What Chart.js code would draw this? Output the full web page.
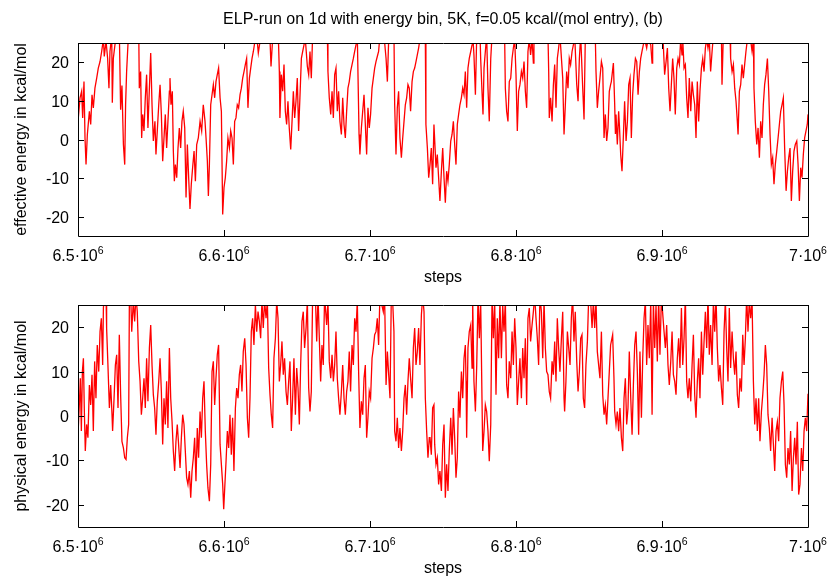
<!DOCTYPE html>
<html>
<head>
<meta charset="utf-8">
<script src="https://cdn.jsdelivr.net/npm/chart.js@4/dist/chart.umd.min.js"></script>
<style>
html, body { margin: 0; padding: 0; background: #fff; }
#wrap { position: relative; width: 829px; height: 577px; }
canvas { position: absolute; left: 0; }
</style>
</head>
<body>
<div id="wrap">
    <canvas id="topChart" width="829" height="290" style="top:0"></canvas>
    <canvas id="bottomChart" width="829" height="287" style="top:290px"></canvas>
</div>
<script>
// steps are stored in thousands (6500 = 6.5e6 steps), energies in kcal/mol
const topStepK = [
    6500.0, 6501.4, 6502.5, 6503.2, 6504.1, 6504.8, 6505.5, 6506.4, 6507.8, 6508.7,
    6509.6, 6510.5, 6511.6, 6512.8, 6513.9, 6515.1, 6516.2, 6517.4, 6518.0, 6519.2,
    6520.3, 6521.2, 6521.9, 6523.1, 6523.5, 6524.2, 6525.3, 6526.5, 6528.3, 6529.2,
    6530.1, 6531.1, 6532.0, 6532.6, 6533.3, 6534.2, 6535.2, 6538.4, 6541.6, 6542.0,
    6542.9, 6543.6, 6544.3, 6545.2, 6546.1, 6547.0, 6547.9, 6548.9, 6549.8, 6550.7,
    6551.6, 6552.7, 6553.4, 6554.3, 6555.3, 6556.2, 6557.1, 6558.0, 6558.9, 6559.8,
    6560.7, 6561.6, 6562.6, 6563.0, 6563.7, 6564.6, 6565.3, 6566.0, 6566.7, 6567.6,
    6568.5, 6569.4, 6570.3, 6571.2, 6572.1, 6573.1, 6574.0, 6574.9, 6575.8, 6576.7,
    6577.6, 6578.5, 6579.5, 6580.4, 6581.3, 6582.4, 6583.6, 6584.7, 6585.8, 6587.0,
    6587.7, 6588.6, 6589.3, 6590.0, 6590.9, 6591.8, 6592.7, 6593.6, 6594.5, 6595.4,
    6596.3, 6597.3, 6598.2, 6599.1, 6600.0, 6600.9, 6601.8, 6602.7, 6603.7, 6604.6,
    6605.5, 6606.4, 6607.3, 6608.2, 6609.1, 6610.0, 6611.0, 6611.9, 6612.8, 6613.7,
    6614.6, 6615.5, 6616.4, 6617.4, 6618.3, 6619.2, 6620.1, 6621.0, 6622.4, 6623.5,
    6624.7, 6626.9, 6631.5, 6632.2, 6633.3, 6637.2, 6637.9, 6638.3, 6639.3, 6640.2,
    6641.1, 6642.0, 6642.9, 6643.8, 6644.7, 6645.7, 6646.6, 6647.5, 6648.4, 6649.3,
    6650.2, 6651.1, 6652.0, 6653.0, 6653.9, 6654.8, 6655.7, 6657.1, 6658.0, 6658.9,
    6659.8, 6660.7, 6665.7, 6670.8, 6671.2, 6672.1, 6673.1, 6674.0, 6674.9, 6675.8,
    6676.7, 6677.6, 6678.5, 6679.4, 6680.4, 6681.3, 6682.2, 6683.1, 6684.0, 6684.9,
    6685.8, 6686.7, 6687.7, 6688.6, 6689.5, 6690.4, 6691.3, 6692.5, 6693.1, 6694.1,
    6695.0, 6695.9, 6696.8, 6697.7, 6698.6, 6699.5, 6700.4, 6701.4, 6702.3, 6703.2,
    6704.1, 6705.0, 6705.9, 6706.8, 6709.1, 6711.0, 6711.9, 6712.8, 6716.4, 6716.9,
    6717.8, 6718.7, 6719.6, 6720.5, 6721.5, 6722.4, 6723.3, 6724.2, 6725.1, 6726.0,
    6726.9, 6727.8, 6728.8, 6729.7, 6730.6, 6731.5, 6732.4, 6733.3, 6734.2, 6736.5,
    6737.9, 6738.3, 6739.3, 6740.2, 6741.1, 6742.0, 6742.9, 6743.8, 6745.2, 6746.1,
    6747.0, 6747.9, 6748.9, 6749.8, 6750.7, 6751.6, 6752.5, 6753.4, 6754.3, 6755.3,
    6756.2, 6757.1, 6758.0, 6758.9, 6759.8, 6760.7, 6761.6, 6762.6, 6763.5, 6764.4,
    6765.3, 6766.2, 6767.1, 6768.0, 6769.0, 6769.9, 6770.4, 6771.2, 6772.2, 6773.1,
    6775.3, 6775.8, 6776.7, 6777.4, 6778.1, 6779.0, 6779.9, 6780.8, 6781.7, 6782.7,
    6783.6, 6787.9, 6792.2, 6792.7, 6793.6, 6794.5, 6795.4, 6796.4, 6797.3, 6798.2,
    6799.1, 6800.0, 6800.9, 6801.8, 6802.7, 6803.7, 6804.6, 6805.5, 6806.4, 6807.3,
    6808.2, 6809.1, 6810.0, 6811.0, 6811.9, 6812.3, 6817.1, 6821.9, 6822.4, 6822.8,
    6823.7, 6824.7, 6825.6, 6826.5, 6827.4, 6828.3, 6829.2, 6830.1, 6832.0, 6832.9,
    6833.8, 6834.7, 6835.6, 6836.5, 6837.4, 6838.4, 6839.3, 6840.2, 6841.6, 6842.5,
    6843.4, 6844.3, 6845.7, 6846.6, 6847.5, 6850.9, 6854.3, 6854.8, 6855.7, 6856.6,
    6857.5, 6858.5, 6859.4, 6860.3, 6861.2, 6862.1, 6863.0, 6863.9, 6864.8, 6865.3,
    6866.7, 6867.6, 6868.1, 6868.5, 6869.4, 6870.3, 6870.8, 6871.7, 6872.6, 6873.5,
    6874.4, 6875.4, 6876.3, 6877.2, 6878.1, 6879.0, 6879.9, 6880.8, 6881.8, 6882.7,
    6883.6, 6884.5, 6885.4, 6886.3, 6887.2, 6888.1, 6889.5, 6890.4, 6892.3, 6893.2,
    6893.6, 6897.0, 6900.5, 6900.9, 6901.8, 6902.8, 6903.7, 6904.6, 6905.5, 6906.4,
    6907.3, 6908.2, 6909.1, 6910.1, 6911.0, 6911.9, 6912.8, 6913.7, 6914.2, 6915.1,
    6916.0, 6916.9, 6917.8, 6918.7, 6919.7, 6920.6, 6921.5, 6922.4, 6923.3, 6924.2,
    6925.1, 6926.0, 6927.0, 6927.9, 6928.8, 6929.7, 6930.6, 6931.5, 6932.4, 6933.3,
    6934.3, 6935.2, 6940.7, 6941.1, 6942.0, 6946.6, 6947.0, 6948.0, 6948.9, 6949.8,
    6950.7, 6951.6, 6952.1, 6953.0, 6953.9, 6954.8, 6955.7, 6956.6, 6957.5, 6958.5,
    6960.3, 6961.7, 6962.6, 6963.0, 6963.9, 6964.9, 6965.8, 6966.7, 6967.6, 6968.5,
    6969.4, 6970.3, 6971.2, 6972.2, 6973.1, 6974.0, 6974.9, 6975.8, 6976.7, 6977.6,
    6978.6, 6979.5, 6980.4, 6981.3, 6982.2, 6983.1, 6984.0, 6985.0, 6985.9, 6986.8,
    6987.7, 6988.6, 6989.5, 6990.4, 6991.3, 6992.3, 6993.2, 6994.1, 6995.0, 6995.9,
    6996.8, 6997.7, 6998.6, 6999.5, 7000.0
];
const topEnergy = [
    4.7, 10.8, 12.5, 5.6, 15, 0.4, -6.5, 1.3, 7.3, 3.9,
    11.6, 8.2, 13.3, 15.9, 18.5, 20.2, 22.8, 26, 21.5, 25.5,
    21, 13.3, 22.8, 27, 9.5, 21, 24.5, 27, 28, 7.7,
    14, -1.3, -6.5, 9, 17.6, 24.5, 28, 30, 28, 13.3,
    17.6, 0.4, 6.5, 2.2, 10.8, 16.8, 3, 13.3, 22.4, 9,
    -0.4, 4.7, -3.9, 2.2, 9, 14.2, 6.5, -5.6, 0.4, 6.5,
    -2.2, 4.7, 12.5, 15.9, 9, 12.5, -3, -10.8, -6.5, -9.9,
    -2.2, 3, -2.2, 4.7, 7.3, 3, -15, -1.3, -9.9, -18,
    -11.6, -7.3, -3, -10.8, -1.3, 0.4, 4.7, 2.2, 9, 4.7,
    0.4, -5.6, -14.6, -6.5, 9, 11.6, 14.2, 10.8, 15, 16.8,
    18.5, 10.8, 7.3, -19.4, -12.5, -9.9, -5.6, 0.4, -2.2, 2.2,
    0.4, -6.5, 4.7, 5.6, 9, 8.2, 11.6, 13.3, 15.9, 17.6,
    19.4, 21, 8.2, 15.9, 18.5, 21, 22.8, 25, 27, 22.4,
    25.5, 27, 26, 18.9, 26, 27, 17.6, 5.6, 16.8, 12.5,
    19.4, 7.3, 3.9, 9.9, 3, -2.6, 4.7, 12.5, 5.6, 9.9,
    15.9, 2.2, 10.8, 21, 22.8, 24.5, 26, 18.9, 16.8, 22.8,
    15.9, 27, 30, 27, 17.6, 10.8, 6.5, 12.5, 5.6, 16.8,
    18.5, 7.3, 12.5, 4.7, 1.3, 10.8, 3.9, 0.4, 7.3, 13.3,
    15, 17.6, 19.4, 21, 22.8, 24.5, 27, 1.3, -3.9, 3,
    7.3, 11.6, 3.9, -3.9, 8.2, 3, 6.5, 13.3, 15.9, 18.5,
    20.2, 21.5, 22.8, 27, 29, 21, 15, 26, 28, 9,
    -3.9, 8.2, 12.5, 0.4, -4.7, 0.4, 4.7, 9, 10.8, 14.2,
    13.3, 7.3, 15, 17.6, 18.5, 20.2, 21.9, 23.7, 26, 28,
    26, 3.9, -2.2, -9.9, -6.5, -2.2, -11.6, 3.9, -7.3, -3.9,
    -9.9, -15.9, -8.2, -2.2, -9.9, -16.4, -8.2, -10.8, -6.5, -0.4,
    1.3, 4.7, -1.3, -6.5, 3.9, 6.5, 9, 10.8, 13.3, 11.6,
    17.6, 8.2, 18.5, 21, 22.8, 24.5, 27, 21.9, 11.6, 27,
    28, 21, 12.5, 6.5, 18.5, 22.8, 27, 13.3, 4.7, 21,
    27, 30, 27, 13.3, 7.3, 4.7, 15, 15.9, 21, 23.7,
    26, 16.8, 2.2, 12.5, 14.2, 17.6, 15.9, 20.2, 12.5, 8.2,
    22.8, 26, 21.9, 26, 19.8, 27, 30, 27, 17.6, 5.6,
    10.8, 4.7, 14.2, 19.4, 8.2, 21, 23.7, 27, 15.9, 1.3,
    9, 17.6, 13.3, 21, 19.4, 22.8, 24.5, 27, 14.2, 9.9,
    21, 27, 13.3, 5.2, 27, 30, 27, 17.6, 8.2, 12.5,
    15.9, 20.2, 18.5, 0.4, 6.5, -0.4, 3, 12.5, 14.2, 15,
    19.8, 9, 1.4, 6.5, -1.3, 7.3, 3.9, -3.9, -8.2, 0.4,
    9.9, -0.4, 4.7, 14.2, 15.9, 0.4, 11.6, 16.8, 21, 20.2,
    11.6, 17.6, 21, 22.8, 24.5, 26, 23.7, 26, 24.5, 19.8,
    27, 30, 27, 24.5, 16.8, 20.2, 23.7, 13.3, 7.3, 14.2,
    21, 15.9, 6.5, 18.5, 21, 19.4, 26, 21.9, 26, 18.5,
    19.4, 10.8, 5.6, 15.9, 7.3, 15, 11.6, 9, 0.4, 15,
    4.7, 12.5, 18.5, 21, 17.6, 23.7, 26, 23.7, 26, 17.6,
    22.8, 27, 27, 14.2, 27, 27, 21, 17.6, 19.4, 13.3,
    9.9, 4.7, 1.3, 12.5, 14.2, 19.4, 15.9, 19.4, 22.8, 26,
    27, 22.8, 26, 13.3, 4.7, -1.3, 3, -4.7, 4.7, 0.4,
    9, 14.2, 16.8, 21, 12.5, 1.3, -6.5, -4.7, -11.6, -6.5,
    -3, 0.4, 3.9, 7.3, 9, 10.8, -2.2, -13.3, -8.2, -4.7,
    -2.2, -15.9, -8.2, -3, -1.3, -0.4, -6.5, -15.9, -7.3, -9.9,
    -3.9, 0.4, 2.2, 3.9, 6.5
];

const bottomStepK = [
    6500.0, 6500.9, 6501.6, 6502.3, 6503.0, 6503.7, 6504.3, 6505.0, 6505.9, 6506.8,
    6507.8, 6508.7, 6509.6, 6510.5, 6511.4, 6512.3, 6513.2, 6514.2, 6515.1, 6516.0,
    6516.9, 6517.4, 6518.0, 6519.2, 6519.6, 6520.5, 6521.5, 6522.4, 6523.3, 6523.7,
    6524.7, 6525.6, 6526.5, 6527.4, 6528.3, 6529.2, 6530.1, 6531.1, 6532.0, 6532.9,
    6533.8, 6534.7, 6535.2, 6536.1, 6536.8, 6537.9, 6538.8, 6539.7, 6540.6, 6541.6,
    6542.5, 6543.4, 6544.3, 6545.2, 6546.1, 6547.0, 6547.9, 6548.9, 6549.8, 6550.7,
    6551.6, 6552.5, 6553.4, 6554.3, 6555.3, 6556.2, 6557.1, 6558.0, 6558.9, 6559.8,
    6560.7, 6561.6, 6562.6, 6563.5, 6564.4, 6565.3, 6566.2, 6567.1, 6568.0, 6568.9,
    6569.9, 6570.8, 6571.7, 6572.6, 6573.5, 6574.4, 6575.3, 6576.3, 6577.2, 6578.1,
    6579.0, 6579.9, 6580.8, 6581.7, 6582.6, 6583.6, 6584.5, 6585.4, 6586.3, 6587.2,
    6588.1, 6589.0, 6590.0, 6590.9, 6591.8, 6592.7, 6593.6, 6594.5, 6595.4, 6596.3,
    6597.3, 6598.2, 6599.1, 6599.8, 6600.5, 6601.4, 6602.3, 6603.2, 6604.1, 6605.0,
    6605.9, 6606.8, 6607.8, 6608.7, 6609.6, 6610.5, 6611.4, 6612.3, 6613.2, 6614.2,
    6615.1, 6616.0, 6616.9, 6617.8, 6618.7, 6619.6, 6620.5, 6621.5, 6622.4, 6623.3,
    6624.2, 6625.1, 6626.0, 6626.9, 6627.8, 6628.8, 6629.7, 6630.6, 6631.5, 6632.4,
    6633.3, 6634.2, 6635.2, 6636.1, 6637.0, 6637.9, 6638.8, 6639.7, 6640.6, 6641.5,
    6642.5, 6643.4, 6644.3, 6645.2, 6646.1, 6647.0, 6647.9, 6648.9, 6649.8, 6650.7,
    6651.6, 6652.5, 6653.4, 6654.3, 6655.2, 6656.2, 6657.1, 6658.0, 6658.9, 6659.8,
    6660.7, 6662.6, 6663.5, 6664.4, 6666.2, 6667.1, 6668.0, 6668.9, 6670.3, 6671.2,
    6672.1, 6673.1, 6674.0, 6674.9, 6675.8, 6676.7, 6677.6, 6678.5, 6679.4, 6680.4,
    6681.3, 6682.2, 6683.1, 6684.0, 6684.9, 6685.8, 6686.7, 6687.7, 6688.6, 6689.5,
    6690.4, 6691.3, 6692.2, 6693.1, 6694.1, 6695.0, 6695.9, 6696.8, 6697.7, 6698.6,
    6699.5, 6700.4, 6701.4, 6702.3, 6703.2, 6704.1, 6705.0, 6705.9, 6706.8, 6709.1,
    6710.0, 6711.0, 6711.9, 6712.8, 6713.7, 6714.6, 6715.5, 6716.4, 6716.9, 6717.8,
    6718.7, 6719.6, 6720.5, 6721.5, 6722.4, 6723.3, 6724.2, 6725.1, 6726.0, 6726.9,
    6727.8, 6728.8, 6729.7, 6730.6, 6731.5, 6732.4, 6733.3, 6734.2, 6735.2, 6736.1,
    6737.0, 6737.9, 6738.8, 6739.7, 6740.6, 6741.1, 6742.0, 6742.9, 6743.8, 6744.3,
    6745.2, 6746.1, 6747.0, 6747.9, 6748.9, 6749.8, 6750.7, 6751.6, 6752.5, 6753.4,
    6754.3, 6755.3, 6756.2, 6757.1, 6758.0, 6758.9, 6759.8, 6760.7, 6761.6, 6762.6,
    6763.5, 6764.4, 6765.3, 6765.8, 6766.2, 6767.1, 6768.0, 6769.0, 6769.9, 6770.3,
    6771.2, 6772.2, 6773.1, 6774.0, 6774.9, 6775.8, 6776.7, 6777.2, 6778.1, 6779.0,
    6779.9, 6780.8, 6781.7, 6782.7, 6783.6, 6784.5, 6785.4, 6786.3, 6787.2, 6788.1,
    6789.0, 6790.0, 6790.9, 6791.8, 6792.7, 6793.6, 6794.5, 6795.4, 6796.4, 6797.3,
    6798.2, 6799.1, 6800.0, 6800.9, 6801.8, 6802.7, 6803.7, 6804.6, 6805.5, 6806.4,
    6807.3, 6808.2, 6809.1, 6810.0, 6811.0, 6811.9, 6812.8, 6813.7, 6814.6, 6815.5,
    6816.4, 6817.4, 6818.3, 6819.2, 6820.1, 6821.0, 6821.9, 6822.8, 6823.7, 6824.7,
    6825.6, 6826.5, 6827.4, 6828.3, 6829.2, 6830.1, 6831.1, 6832.0, 6832.9, 6833.3,
    6834.2, 6835.2, 6836.1, 6837.0, 6837.9, 6838.8, 6839.7, 6840.6, 6841.6, 6842.5,
    6843.4, 6844.3, 6845.2, 6846.1, 6847.0, 6847.9, 6848.9, 6849.8, 6851.1, 6852.1,
    6853.0, 6853.9, 6854.8, 6855.7, 6856.6, 6857.5, 6858.5, 6859.4, 6860.3, 6861.2,
    6862.1, 6863.0, 6863.9, 6864.8, 6866.2, 6867.1, 6867.6, 6868.5, 6869.4, 6870.3,
    6871.2, 6872.2, 6873.1, 6874.0, 6874.9, 6875.8, 6876.7, 6877.6, 6878.6, 6879.5,
    6880.4, 6881.3, 6882.2, 6883.1, 6884.0, 6884.9, 6885.9, 6886.8, 6887.7, 6888.6,
    6889.5, 6890.4, 6891.3, 6892.3, 6893.2, 6894.1, 6895.0, 6895.9, 6896.8, 6897.7,
    6898.6, 6899.6, 6901.4, 6902.3, 6903.2, 6904.1, 6905.0, 6906.0, 6906.9, 6907.8,
    6908.7, 6909.6, 6910.5, 6911.4, 6912.3, 6913.3, 6914.2, 6915.1, 6916.0, 6916.9,
    6917.8, 6918.7, 6919.7, 6920.6, 6921.5, 6922.4, 6923.3, 6924.2, 6925.1, 6926.0,
    6927.0, 6927.9, 6928.8, 6929.7, 6930.6, 6931.5, 6932.4, 6933.3, 6934.3, 6935.2,
    6936.1, 6937.0, 6937.9, 6938.8, 6939.7, 6940.7, 6941.6, 6942.5, 6943.4, 6944.3,
    6945.2, 6946.1, 6947.0, 6948.0, 6948.9, 6949.8, 6950.7, 6951.6, 6952.5, 6953.4,
    6954.4, 6955.3, 6956.2, 6957.1, 6958.0, 6958.9, 6959.8, 6960.7, 6961.7, 6962.6,
    6963.5, 6964.4, 6965.3, 6966.2, 6967.1, 6968.1, 6969.0, 6969.9, 6970.8, 6971.7,
    6972.6, 6973.5, 6974.4, 6975.4, 6976.3, 6977.2, 6978.1, 6979.0, 6979.9, 6980.8,
    6981.8, 6982.7, 6983.6, 6984.5, 6985.4, 6986.3, 6987.2, 6988.1, 6989.1, 6990.0,
    6990.9, 6991.8, 6992.7, 6993.6, 6994.5, 6995.5, 6996.4, 6997.3, 6998.2, 6999.1,
    7000.0
];
const bottomEnergy = [
    -4.2, 2.5, 8.5, -3.4, 10, 13, 1.8, -7.9, -1.9, -4.9,
    7, 2.5, 9.3, -3.4, 12.3, 4, 16, 10, 19, 22,
    11.5, 24.3, 27, 27, 19.8, 11.5, 1.8, 7, 0.3, -3.4,
    4, 11.5, 13.8, 1.8, 18.3, 4.8, -5.7, -7.2, -9.4, -9.8,
    -4.9, -1.9, 27, 27, 19, 26, 21.3, 27, 23.5, 12.3,
    7.8, 0.3, 4, 8.5, 1.8, 13, 3.3, 15.3, 20.5, 11.5,
    4.8, 1.8, -4.2, 3.3, 7.8, 13, 5.5, -6.4, 4, -1.9,
    7.8, -2.7, 15.3, 4, -1.2, -7.9, -12.4, -5.7, -1.9, -6.4,
    -11.7, -4.9, 0.3, -1.9, -7.9, -13.9, -15.4, -12.4, -18.4, -12.4,
    -9.4, -4.9, -14.7, -2.7, -9.4, 1, -4.9, 4, 7.8, -3.4,
    -10.9, -16.2, -19.2, -10.9, 10, 12.3, 2.5, 8.5, 13.8, 16,
    -6.4, -10.9, -15.4, -21, -16.2, -10.2, -3.4, -7.2, 0.3, -8.7,
    -0.4, -12.4, 1.8, 6.3, 4, 9.3, 11.5, 5.5, 14.5, 17.5,
    11.5, -0.4, -4.9, 4, 19, 22, 16, 25, 19, 23.5,
    21.3, 17.5, 26, 19.8, 26, 22, 26, 10.8, 4.8, 0.3,
    -2.7, 13, 17.5, 26, 22, 7.8, 11.5, 16.8, 9.3, 13,
    5.5, 2.5, 7.8, 12.3, -3.4, 4, 13, 0.3, 10.8, 6.3,
    -1.9, 11.5, 21.3, 23.5, 15.3, 19.8, 26, 6.3, 1, 5.5,
    27, 27, 16.8, 27, 7.8, 16, 11.5, 27, 20.5, 26,
    12.3, 8.5, 13.8, 7.8, 11.5, 19, 8.5, 4, 0.3, 5.5,
    11.5, 4, 0.3, 5.5, 7.8, 14.5, 5.5, 16, 11.5, 22,
    19, 26, 10, -2.7, 3.3, 0.3, 8.5, 11.5, -4.9, -0.4,
    5.5, 4, 13, 15.3, 18.3, 19, 22, 16, 27, 23.5,
    27, 7, 14.5, 9.3, 4, 27, 26, 19, -3.4, -5.7,
    -0.4, -7.2, -2.7, -7.9, -3.4, 4, 7, 0.3, 7.8, 13,
    8.5, 4, 15.3, 19.8, 11.5, 14.5, 19.8, 11.5, 22.8, 27,
    23.5, 4, -3.4, -9.4, -4.9, -4.9, -8.7, 1.8, 2.5, -6.4,
    -10.9, -9.4, -15.4, -12.4, -16.9, -6.4, -1.9, -18.4, -10.9, -16.9,
    -7.9, -0.4, -8.7, 1.8, -4.9, -13.9, -9.4, 5.5, -0.4, 10,
    4, 13, 16, 7.8, -4.9, 15.3, 19, 20.5, 10.8, 27,
    7.8, 1, 11.5, 27, 17.5, 26, 4, -7.9, -3.4, 2.5,
    1, -3.4, -10.2, -1.9, 27, 17.5, 26, 4.8, 22, 13,
    26, 13, 25, 19, 26, 7, 4, 12.3, 8.5, 19,
    11.5, 22, 15.3, 2.5, 7.8, 13, 4, 15.3, 8.5, 17.5,
    2.5, 22, 24.3, 16.8, 20.5, 23.5, 27, 22, 17.5, 11.5,
    27, 23.5, 13, 26, 15.3, 10, 9.3, 5.5, 4, 12.3,
    9.3, 16.8, 7.8, 22, 15.3, 10, 17.5, 23.5, 4, 1,
    7.8, 19, 15.3, 11.5, 22, 27, 16.8, 23.5, 12.3, 5.5,
    10, 17.5, 18.3, 4, 1.8, 11.5, 16.8, 27, 26, 19.8,
    26, 19.8, 26, 14.5, 11.5, 8.5, 19, 4.8, 0.3, 2.5,
    -1.9, 4, 10, 16, 18.3, 8.5, 1, -1.9, 1, -3.4,
    1.8, -4.9, -7.9, 4, 8.5, -1.9, 1.8, 14.5, 4, -4.2,
    7, 16, 19, 10, -4.2, 14.5, -0.4, 13, 22, 26,
    11.5, 20.5, 13, 26, 0.3, 26, 15.3, 25, 12.3, 27,
    13.8, 27, 19, 15.3, 20.5, 11.5, 7, 12.3, 19, 9.3,
    7.8, 4.8, 13, 17.5, 10.8, 24.3, 11.5, 17.5, 27, 7.8,
    4, 8.5, 3.3, 11.5, 18.3, 4.8, -0.4, 7.8, 13, 4,
    19, 9.3, 16.8, 23.5, 15.3, 27, 13.8, 20.5, 11.5, 26,
    19, 27, 15.3, 7.8, 11.5, 6.3, 2.5, 19, 26, 15.3,
    7.8, 24.3, 10.8, 19, 13, 9.3, 14.5, 4.8, 1.8, 8.5,
    5.5, 18.3, 11.5, 17.5, 27, 19, 26, 22, 26, 7.8,
    -1.9, 4, -3.4, 4, -5.7, 1, 4.8, 9.3, 16, 11.5,
    0.3, -2.7, -7.9, -0.4, -6.4, -12.4, -3.4, -1.3, -5.7, 4,
    7.8, 10, 2.5, -10.9, -13.9, -7.2, -10.9, -3.4, -16.9, -9.4,
    -4.9, -10.9, -1.3, -17.7, -15.4, -7.2, -12.4, -3.4, -0.4, -3.4,
    5
];

const xTickValues = [6500000, 6600000, 6700000, 6800000, 6900000, 7000000];
const xTickMantissa = ['6.5', '6.6', '6.7', '6.8', '6.9', '7'];
const yTickValues = [-20, -10, 0, 10, 20];

const FONT = '"Liberation Sans", Arial, Helvetica, sans-serif';

// gnuplot style frame: border, inward ticks on all four sides, tick labels, axis titles
const gnuplotFrame = {
    id: 'gnuplotFrame',
    afterDraw(chart, args, opts) {
        const { ctx, chartArea: a } = chart;
        const xs = chart.scales.x;
        const ys = chart.scales.y;
        const tick = 6;
        ctx.save();
        ctx.strokeStyle = '#000';
        ctx.lineWidth = 1;
        ctx.beginPath();
        ctx.rect(Math.round(a.left) + 0.5, Math.round(a.top) + 0.5,
                 Math.round(a.right - a.left), Math.round(a.bottom - a.top));
        xTickValues.forEach(v => {
            const px = Math.round(xs.getPixelForValue(v)) + 0.5;
            ctx.moveTo(px, a.bottom); ctx.lineTo(px, a.bottom - tick);
            ctx.moveTo(px, a.top); ctx.lineTo(px, a.top + tick);
        });
        yTickValues.forEach(v => {
            const py = Math.round(ys.getPixelForValue(v)) + 0.5;
            ctx.moveTo(a.left, py); ctx.lineTo(a.left + tick, py);
            ctx.moveTo(a.right, py); ctx.lineTo(a.right - tick, py);
        });
        ctx.stroke();

        ctx.fillStyle = '#000';
        ctx.textBaseline = 'alphabetic';

        // y tick labels
        ctx.font = '16px ' + FONT;
        ctx.textAlign = 'right';
        yTickValues.forEach(v => {
            ctx.fillText(String(v), a.left - 9, ys.getPixelForValue(v) + 6);
        });

        // x tick labels like 6.5·10^6
        xTickValues.forEach((v, i) => {
            const base = xTickMantissa[i] + '\u00b710';
            ctx.font = '16px ' + FONT;
            const wb = ctx.measureText(base).width;
            ctx.font = '10.5px ' + FONT;
            const ws = ctx.measureText('6').width;
            const left = xs.getPixelForValue(v) - (wb + ws) / 2;
            const y = a.bottom + 25;
            ctx.textAlign = 'left';
            ctx.font = '16px ' + FONT;
            ctx.fillText(base, left, y);
            ctx.font = '10.5px ' + FONT;
            ctx.fillText('6', left + wb, y - 7.5);
        });

        ctx.textAlign = 'center';
        ctx.font = '16px ' + FONT;
        ctx.fillText('steps', (a.left + a.right) / 2, a.bottom + 46);

        if (opts.title) {
            ctx.fillText(opts.title, (a.left + a.right) / 2, 23.5);
        }

        ctx.textBaseline = 'middle';
        ctx.translate(22, (a.top + a.bottom) / 2);
        ctx.rotate(-Math.PI / 2);
        ctx.fillText(opts.yTitle, 0, 0);
        ctx.restore();
    }
};

function makePanel(canvasId, stepK, energy, padding, frameOpts) {
    const points = stepK.map((k, i) => ({ x: k * 1000, y: energy[i] }));
    return new Chart(document.getElementById(canvasId), {
        type: 'line',
        data: {
            datasets: [{
                data: points,
                borderColor: '#ff0000',
                borderWidth: 1.3,
                pointRadius: 0,
                tension: 0,
                fill: false
            }]
        },
        options: {
            responsive: false,
            animation: false,
            events: [],
            layout: { padding: padding },
            plugins: {
                legend: { display: false },
                tooltip: { enabled: false },
                gnuplotFrame: frameOpts
            },
            scales: {
                x: { type: 'linear', display: false, min: 6500000, max: 7000000 },
                y: { type: 'linear', display: false, min: -25, max: 25 }
            }
        },
        plugins: [gnuplotFrame]
    });
}

makePanel('topChart', topStepK, topEnergy,
    { left: 78, right: 21, top: 43, bottom: 54 },
    { title: 'ELP-run on 1d with energy bin, 5K, f=0.05 kcal/(mol entry), (b)',
      yTitle: 'effective energy in kcal/mol' });

makePanel('bottomChart', bottomStepK, bottomEnergy,
    { left: 78, right: 21, top: 15, bottom: 50 },
    { yTitle: 'physical energy in kcal/mol' });
</script>
</body>
</html>
